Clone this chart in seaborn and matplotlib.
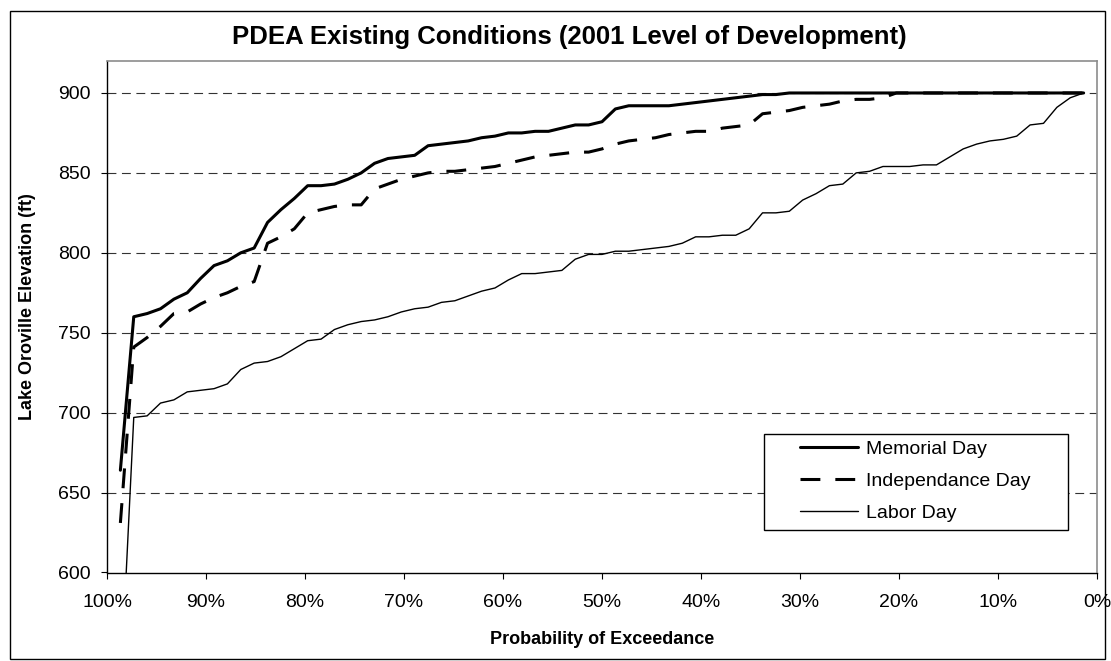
import matplotlib
matplotlib.use("Agg")
import numpy as np
import pandas as pd
import matplotlib.pyplot as plt
import seaborn as sns
from matplotlib.ticker import PercentFormatter
from matplotlib.patches import Rectangle

# Lake Oroville elevation (ft), sorted low to high, one value per simulated year
memorial_day = [
    664, 760, 762, 765, 771, 775, 784, 792, 795, 800,
    803, 819, 827, 834, 842, 842, 843, 846, 850, 856,
    859, 860, 861, 867, 868, 869, 870, 872, 873, 875,
    875, 876, 876, 878, 880, 880, 882, 890, 892, 892,
    892, 892, 893, 894, 895, 896, 897, 898, 899, 899,
    900, 900, 900, 900, 900, 900, 900, 900, 900, 900,
    900, 900, 900, 900, 900, 900, 900, 900, 900, 900,
    900, 900, 900,
]
independance_day = [
    631, 741, 747, 754, 762, 763, 768, 772, 775, 779,
    782, 806, 810, 815, 825, 827, 829, 830, 830, 840,
    843, 846, 848, 850, 851, 851, 852, 853, 854, 856,
    858, 860, 861, 862, 863, 863, 865, 868, 870, 871,
    872, 874, 875, 876, 876, 878, 879, 880, 887, 888,
    889, 891, 892, 893, 895, 896, 896, 897, 900, 900,
    900, 900, 900, 900, 900, 900, 900, 900, 900, 900,
    900, 900, 900,
]
labor_day = [
    525, 697, 698, 706, 708, 713, 714, 715, 718, 727,
    731, 732, 735, 740, 745, 746, 752, 755, 757, 758,
    760, 763, 765, 766, 769, 770, 773, 776, 778, 783,
    787, 787, 788, 789, 796, 799, 799, 801, 801, 802,
    803, 804, 806, 810, 810, 811, 811, 815, 825, 825,
    826, 833, 837, 842, 843, 850, 851, 854, 854, 854,
    855, 855, 860, 865, 868, 870, 871, 873, 880, 881,
    891, 897, 900,
]
series_names = ["Memorial Day", "Independance Day", "Labor Day"]
x_ticks = [0, 10, 20, 30, 40, 50, 60, 70, 80, 90, 100]
y_ticks = [600, 650, 700, 750, 800, 850, 900]

# Weibull plotting position: exceedance probability of each ranked value
n = len(memorial_day)
rank = np.arange(1, n + 1)
exceedance = 100.0 * (n + 1 - rank) / (n + 1)

frames = []
for name, vals in zip(series_names, [memorial_day, independance_day, labor_day]):
    frames.append(pd.DataFrame({"exceedance": exceedance, "elevation": vals, "series": name}))
df = pd.concat(frames, ignore_index=True)

sns.set_style("white")
plt.rcParams["font.family"] = ["Liberation Sans", "DejaVu Sans"]
plt.rcParams.update({"text.color": "black", "axes.labelcolor": "black",
                     "xtick.color": "black", "ytick.color": "black"})

W, H = 1111, 661
fig = plt.figure(figsize=(W / 100, H / 100), dpi=100)
ax = fig.add_axes([107 / W, 1 - 572.5 / H, 990 / W, 511.5 / H])

styles = {
    "Memorial Day": dict(linewidth=2.2, linestyle="-"),
    "Independance Day": dict(linewidth=2.2, linestyle=(0, (6.5, 4.9))),
    "Labor Day": dict(linewidth=1.0, linestyle="-"),
}
for name in series_names:
    sub = df[df["series"] == name]
    sns.lineplot(data=sub, x="exceedance", y="elevation", ax=ax, color="black",
                 estimator=None, sort=False, legend=False, **styles[name])

ax.set_xlim(100, 0)
ax.set_ylim(600, 920)
ax.set_xticks(x_ticks)
ax.set_yticks(y_ticks)
ax.xaxis.set_major_formatter(PercentFormatter(xmax=100, decimals=0))

ax.yaxis.grid(True, color="#333333", linewidth=0.8, linestyle=(0, (8, 5)))
ax.xaxis.grid(False)
ax.set_axisbelow(True)
# the lowest gridline sits on the category axis
ax.yaxis.get_gridlines()[0].set_visible(False)

for side in ["top", "right"]:
    ax.spines[side].set_color("#8c8c8c")
    ax.spines[side].set_linewidth(1.2)
for side in ["left", "bottom"]:
    ax.spines[side].set_color("black")
    ax.spines[side].set_linewidth(1.0)

ax.tick_params(axis="both", which="major", direction="out", length=4.5, width=0.8,
               color="black", labelsize=14, labelcolor="black", left=True, bottom=True)
ax.tick_params(axis="x", pad=11)
ax.tick_params(axis="y", pad=7.5)

ax.set_xlabel("Probability of Exceedance", fontsize=13, fontweight="bold", va="center")
ax.set_ylabel("Lake Oroville Elevation (ft)", fontsize=13, fontweight="bold", va="center")
ax.xaxis.set_label_coords(0.5, (572.5 - 640) / 511.5)
ax.yaxis.set_label_coords((28 - 107) / 990, (572.5 - 306.7) / 511.5)

fig.text(569.5 / W, 1 - 36.6 / H, "PDEA Existing Conditions (2001 Level of Development)",
         ha="center", va="center", fontsize=18.5, fontweight="bold", color="black")

# legend box and entries
box = Rectangle((764 / W, 1 - 530 / H), 304 / W, 96 / H, transform=fig.transFigure,
                facecolor="white", edgecolor="black", linewidth=1.0, zorder=4, clip_on=False)
ax.add_patch(box)
ax.legend(ax.lines[:3], series_names, loc="center left",
          bbox_to_anchor=(800 / W, 1 - 481 / H), bbox_transform=fig.transFigure,
          frameon=False, borderpad=0, borderaxespad=0, handlelength=2.98,
          handletextpad=0.4, labelspacing=0.75, fontsize=14)

# chart area border
fig.patches.append(Rectangle((10 / W, 1 - 659 / H), 1095 / W, 648 / H, transform=fig.transFigure,
                             fill=False, edgecolor="black", linewidth=1.0))

fig.savefig("out.png", dpi=100)
